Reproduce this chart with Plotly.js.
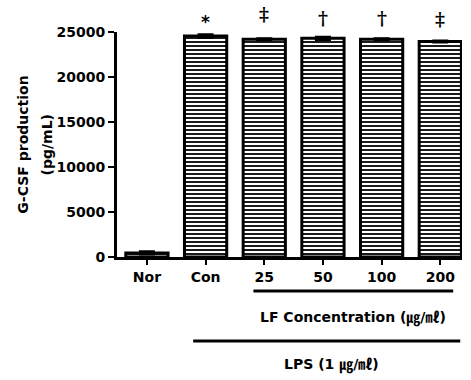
<!DOCTYPE html>
<html>
<head>
<meta charset="utf-8">
<script src="https://cdn.plot.ly/plotly-3.0.1.min.js"></script>
<style>body{margin:0;padding:0;background:#fff;}</style>
</head>
<body>
<div id="chart" style="width:471px;height:380px;"></div>
<script>
const categories = ["Nor", "Con", "25", "50", "100", "200"];
const values = [450, 24550, 24200, 24300, 24200, 23950];
const errors = [120, 150, 60, 130, 60, 60];
const marks = ["", "*", "\u2021", "\u2020", "\u2020", "\u2021"];
const yTicks = [0, 5000, 10000, 15000, 20000, 25000];
const yTitleLines = ["G-CSF production", "(pg/mL)"];

const FONT = "DejaVu Sans, Noto Sans CJK KR, sans-serif";

const trace = {
  type: "bar",
  x: categories,
  y: values,
  marker: {
    color: "white",
    line: {color: "black", width: 3},
    pattern: {shape: "-", fgcolor: "black", bgcolor: "white", size: 4, solidity: 0.45}
  },
  error_y: {type: "data", array: errors, visible: true, color: "black", thickness: 3, width: 8},
  cliponaxis: false,
  hoverinfo: "none"
};

const markYs = [0, 1.045, 1.078, 1.064, 1.064, 1.058];
const annotations = [];
categories.forEach((c, i) => {
  if (!marks[i]) return;
  const star = marks[i] === "*";
  annotations.push({
    x: i, xref: "x", y: markYs[i], yref: "paper",
    text: marks[i], showarrow: false,
    font: {family: star ? FONT : "DejaVu Serif, serif", size: star ? 17 : 19, color: "#000000", weight: 700},
    xanchor: "center", yanchor: "middle"
  });
});
annotations.push({
  x: 3.51, xref: "x", y: -0.271, yref: "paper",
  text: "LF Concentration (㎍/㎖)", showarrow: false,
  font: {family: FONT, size: 14, color: "black", weight: 700},
  xanchor: "center", yanchor: "middle"
});
annotations.push({
  x: 3.15, xref: "x", y: -0.48, yref: "paper",
  text: "LPS (1 ㎍/㎖)", showarrow: false,
  font: {family: FONT, size: 14, color: "black", weight: 700},
  xanchor: "center", yanchor: "middle"
});
const titleXs = [-0.275, -0.203];
yTitleLines.forEach((t, i) => {
  annotations.push({
    x: titleXs[i], xref: "paper", y: 0.5, yref: "paper",
    text: t, showarrow: false, textangle: -90,
    font: {family: FONT, size: 14, color: "black", weight: 700},
    xanchor: "center", yanchor: "middle"
  });
});

const layout = {
  width: 471, height: 380,
  margin: {l: 117, r: 9, t: 32, b: 123},
  paper_bgcolor: "white", plot_bgcolor: "white",
  showlegend: false,
  bargap: 0.28,
  font: {family: FONT, color: "black"},
  xaxis: {
    type: "category",
    range: [-0.51, 5.37],
    showline: true, linecolor: "black", linewidth: 3,
    ticks: "outside", ticklen: 5, tickwidth: 2, tickcolor: "black",
    tickfont: {family: FONT, size: 14, color: "black", weight: 700},
    showgrid: false, zeroline: false, fixedrange: true
  },
  yaxis: {
    range: [0, 25000],
    tickvals: yTicks,
    ticktext: yTicks.map(String),
    showline: true, linecolor: "black", linewidth: 3,
    ticks: "outside", ticklen: 6, tickwidth: 2.5, tickcolor: "black",
    tickfont: {family: FONT, size: 14, color: "black", weight: 700},
    showgrid: false, zeroline: false, fixedrange: true
  },
  shapes: [
    {type: "line", xref: "x", yref: "paper", x0: 1.815, x1: 5.22, y0: -0.151, y1: -0.151, line: {color: "black", width: 3}},
    {type: "line", xref: "x", yref: "paper", x0: 0.788, x1: 5.34, y0: -0.373, y1: -0.373, line: {color: "black", width: 3}}
  ],
  annotations: annotations
};

Plotly.newPlot("chart", [trace], layout, {displayModeBar: false, staticPlot: true});
</script>
</body>
</html>
